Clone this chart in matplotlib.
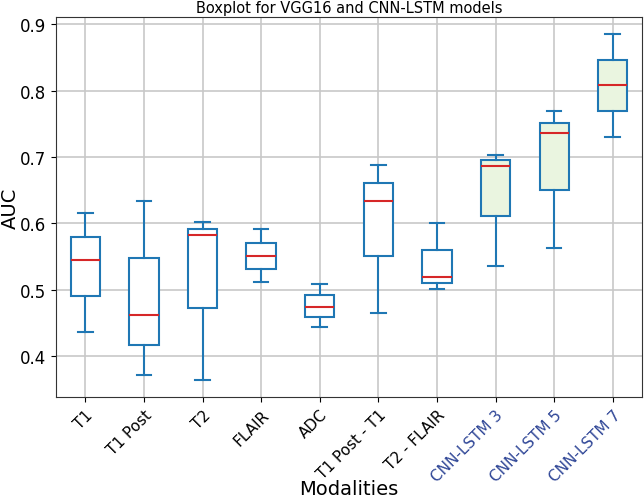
import matplotlib
matplotlib.use("Agg")
import matplotlib.pyplot as plt

# values (AUC)
labels = ["T1", "T1 Post", "T2", "FLAIR", "ADC", "T1 Post - T1", "T2 - FLAIR",
          "CNN-LSTM 3", "CNN-LSTM 5", "CNN-LSTM 7"]
whislo = [0.436, 0.371, 0.364, 0.512, 0.444, 0.465, 0.501, 0.536, 0.563, 0.730]
q1     = [0.490, 0.417, 0.473, 0.531, 0.459, 0.550, 0.510, 0.611, 0.650, 0.769]
med    = [0.544, 0.462, 0.582, 0.550, 0.474, 0.634, 0.519, 0.687, 0.736, 0.808]
q3     = [0.580, 0.548, 0.592, 0.570, 0.492, 0.661, 0.560, 0.695, 0.752, 0.846]
whishi = [0.616, 0.634, 0.602, 0.591, 0.509, 0.688, 0.601, 0.703, 0.769, 0.885]
is_cnn = [False] * 7 + [True] * 3

stats = []
for i in range(len(labels)):
    stats.append({"label": labels[i], "whislo": whislo[i], "q1": q1[i], "med": med[i],
                  "q3": q3[i], "whishi": whishi[i], "fliers": []})

fig = plt.figure(figsize=(6.44, 5.02), dpi=100)
ax = fig.add_axes([0.087, 0.207, 0.910, 0.757])

blue = "#1f77b4"
bp = ax.bxp(stats, patch_artist=True, showfliers=False,
            boxprops=dict(edgecolor=blue, linewidth=1.5),
            whiskerprops=dict(color=blue, linewidth=1.5),
            capprops=dict(color=blue, linewidth=1.5),
            medianprops=dict(color="#d62728", linewidth=1.5))
for box, cnn in zip(bp["boxes"], is_cnn):
    box.set_facecolor("#eaf5e0" if cnn else "white")

ax.grid(True, color="#c8c8c8", linewidth=1.2)
ax.set_axisbelow(True)
ax.set_yticks([0.4, 0.5, 0.6, 0.7, 0.8, 0.9])
ax.tick_params(axis="y", labelsize=12)
ax.set_xticks(range(1, len(labels) + 1))
ax.set_xticklabels(labels, rotation=45, ha="right", rotation_mode="anchor", fontsize=11)
for lbl, cnn in zip(ax.get_xticklabels(), is_cnn):
    if cnn:
        lbl.set_color("#2e4596")

ax.set_title("Boxplot for VGG16 and CNN-LSTM models", fontsize=10.5, pad=4)
ax.set_ylabel("AUC", fontsize=14)
ax.yaxis.set_label_coords(-0.062, 0.5)
ax.set_xlabel("Modalities", fontsize=14)
ax.xaxis.set_label_coords(0.5, -0.215)
for s in ax.spines.values():
    s.set_color("#333333")

fig.savefig("out.png", dpi=100)
